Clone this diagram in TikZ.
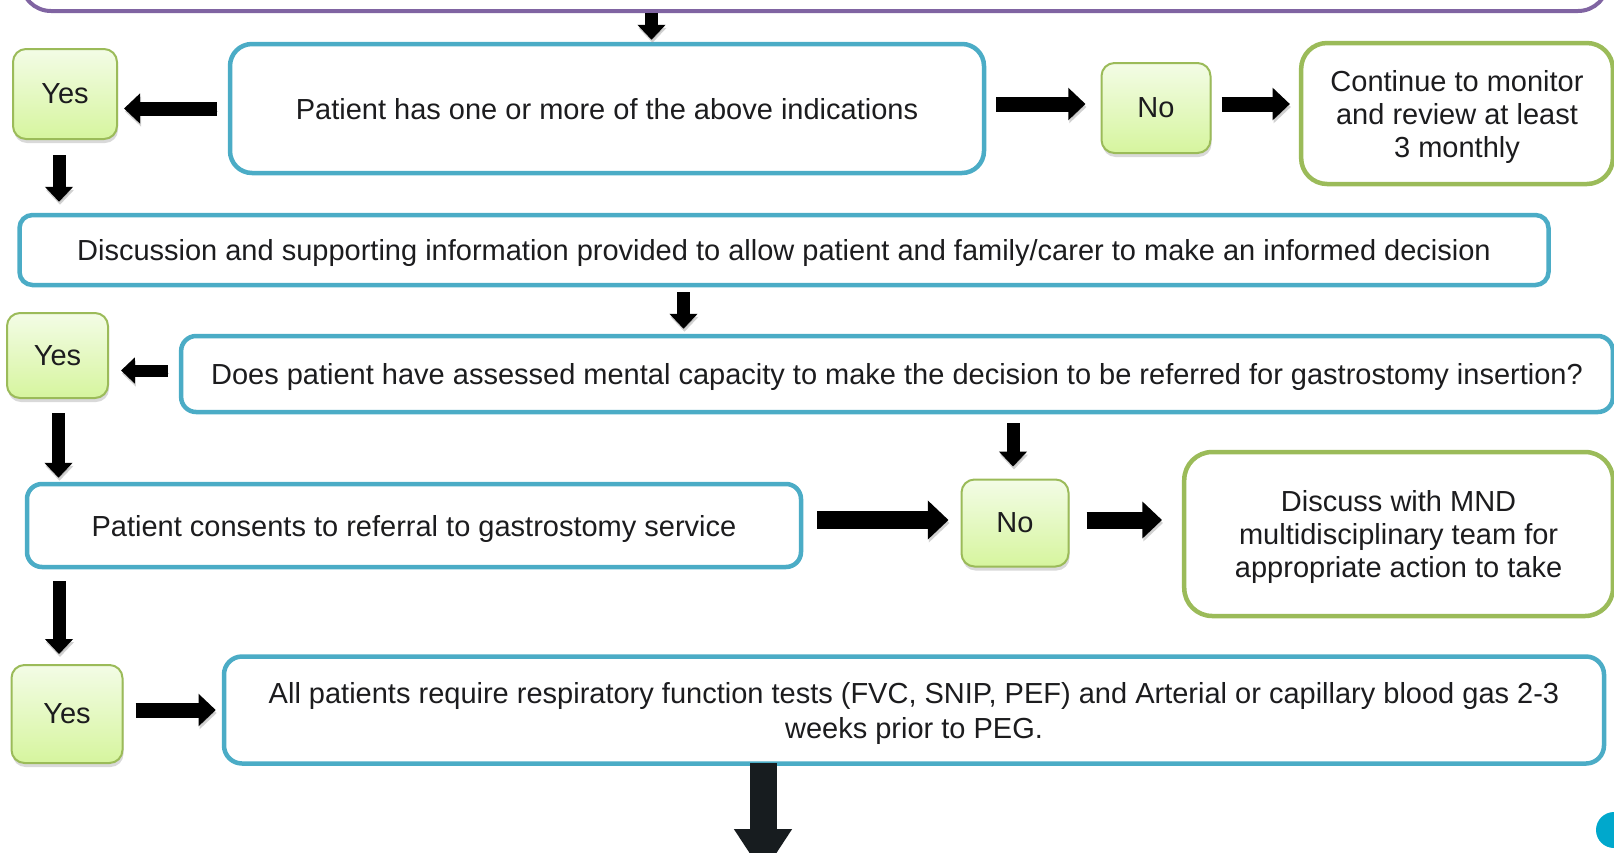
\documentclass[tikz,border=0pt]{standalone}
\usepackage{fontspec}
\setmainfont{Liberation Sans}
\usetikzlibrary{arrows.meta,shadows}
\definecolor{purpleline}{RGB}{128,100,162}
\definecolor{blueline}{RGB}{75,172,198}
\definecolor{greenline}{RGB}{155,187,89}
\definecolor{greentop}{RGB}{243,252,230}
\definecolor{greenbot}{RGB}{214,245,158}
\definecolor{arrowdark}{RGB}{23,28,31}
\definecolor{dotblue}{RGB}{0,168,204}
\definecolor{inktext}{RGB}{28,28,30}
\begin{document}
\begin{tikzpicture}[x=1pt,y=-1pt,
  font=\fontsize{29}{33}\selectfont, text=inktext,
  every node/.append style={text depth=0pt},
  bluebox/.style={draw=blueline, line width=4.5pt, fill=white,
    rounded corners=#1, inner sep=0pt, align=center},
  bluebox/.default=16pt,
  greenbox/.style={draw=greenline, line width=4.5pt, fill=white,
    rounded corners=26pt, inner sep=0pt, align=center},
  choice/.style={draw=greenline, line width=2pt, top color=greentop,
    bottom color=greenbot, rounded corners=13pt, inner sep=0pt,
    drop shadow={shadow xshift=1pt, shadow yshift=-4pt, opacity=0.3}},
  blk/.style={draw=black, line width=#1,
    -{Triangle[length=0pt 1.15, width=0pt 2.1]},
    preaction={draw=black!40, opacity=0.45,
      transform canvas={xshift=1pt, yshift=-3pt}}},
  blk/.default=14pt]
\useasboundingbox (0,0) rectangle (1614,852);

% previous step (only its lower edge is in view)
\node[draw=purpleline, line width=4pt, rounded corners=30pt,
  minimum width=1587pt, minimum height=80pt] (prev) at (814.5,-29) {};

% row 1
\node[bluebox=22pt, minimum width=754pt, minimum height=129pt] (box1) at (607,108.5)
  {Patient has one or more of the above indications};
\node[choice, minimum width=104pt, minimum height=90pt] (yes1) at (65,94) {Yes};
\node[choice, minimum width=109pt, minimum height=90pt] (no1) at (1156,108) {No};
\node[greenbox, minimum width=311.75pt, minimum height=141pt] (cont) at (1457,113.5)
  {Continue to monitor\\and review at least\\3 monthly};

% row 2
\node[bluebox=13pt, minimum width=1529pt, minimum height=70pt] (box2) at (784,250)
  {Discussion and supporting information provided to allow patient and family/carer to make an informed decision};

% row 3
\node[choice, minimum width=101pt, minimum height=85pt] (yes2) at (57.5,355.5) {Yes};
\node[bluebox=15pt, minimum width=1431.75pt, minimum height=76pt] (box3) at (897,374)
  {Does patient have assessed mental capacity to make the decision to be referred for gastrostomy insertion?};

% row 4
\node[bluebox=15pt, minimum width=774pt, minimum height=83pt] (box4) at (414,525.5)
  {Patient consents to referral to gastrostomy service};
\node[choice, minimum width=107pt, minimum height=87pt] (no2) at (1015,523) {No};
\node[greenbox, rounded corners=28pt, minimum width=428.75pt, minimum height=164pt] (disc) at (1398.6,534)
  {Discuss with MND\\multidisciplinary team for\\appropriate action to take};

% row 5
\node[choice, minimum width=111pt, minimum height=98pt] (yes3) at (67,714) {Yes};
\node[bluebox=18pt, minimum width=1380pt, minimum height=107pt,
  font=\fontsize{29}{35}\selectfont] (box5) at (914,710)
  {All patients require respiratory function tests (FVC, SNIP, PEF) and Arterial or capillary blood gas 2-3\\weeks prior to PEG.};

% continuation marker and next-step pointer
\node[circle, fill=dotblue, minimum size=36pt, inner sep=0pt] (dot) at (1614,830) {};
\coordinate (next) at (763,874);

% connectors
\draw[blk=13pt, shorten >=2pt] ([xshift=44.5pt]box1.north |- prev.south) -- ([xshift=44.5pt]box1.north);
\draw[blk=14pt, shorten <=11pt, shorten >=6pt] (box1.west) -- (box1.west -| yes1.east);
\draw[blk=15pt, shorten <=10pt, shorten >=15pt] ([yshift=4.5pt]box1.east) -- ([yshift=4.5pt]box1.east -| no1.west);
\draw[blk=15pt, shorten <=10pt, shorten >=9pt] ([yshift=4pt]no1.east) -- ([yshift=4pt]no1.east -| cont.west);
\draw[blk=13pt, shorten <=15pt, shorten >=11pt] ([xshift=-6pt]yes1.south) -- ([xshift=-6pt]yes1.south |- box2.north);
\draw[blk=13pt, shorten <=5pt, shorten >=5pt] ([xshift=-100.5pt]box2.south) -- ([xshift=-100.5pt]box2.south |- box3.north);
\draw[blk=12pt, shorten <=11pt, shorten >=12pt] ([yshift=3.5pt]box3.west) -- ([yshift=3.5pt]box3.west -| yes2.east);
\draw[blk=13pt, shorten <=14pt, shorten >=4pt] ([xshift=1pt]yes2.south) -- ([xshift=1pt]yes2.south |- box4.north);
\draw[blk=13pt, shorten <=9pt, shorten >=12pt] ([xshift=-2pt]no2.north |- box3.south) -- ([xshift=-2pt]no2.north);
\draw[blk=18pt, shorten <=14pt, shorten >=12pt] ([yshift=5.5pt]box4.east) -- ([yshift=5.5pt]box4.east -| no2.west);
\draw[blk=17pt, shorten <=17pt, shorten >=20pt] ([yshift=3pt]no2.east) -- ([yshift=3pt]no2.east -| disc.west);
\draw[blk=13pt, shorten <=12pt, shorten >=10pt] ([xshift=-8pt]yes3.north |- box4.south) -- ([xshift=-8pt]yes3.north);
\draw[blk=15pt, shorten <=12pt, shorten >=6pt] ([yshift=4pt]yes3.east) -- ([yshift=4pt]yes3.east -| box5.west);
\draw[draw=arrowdark, line width=27pt, -{Triangle[length=45pt, width=55pt]}]
  ([xshift=-151pt, yshift=2.5pt]box5.south) -- (next);
\end{tikzpicture}
\end{document}
